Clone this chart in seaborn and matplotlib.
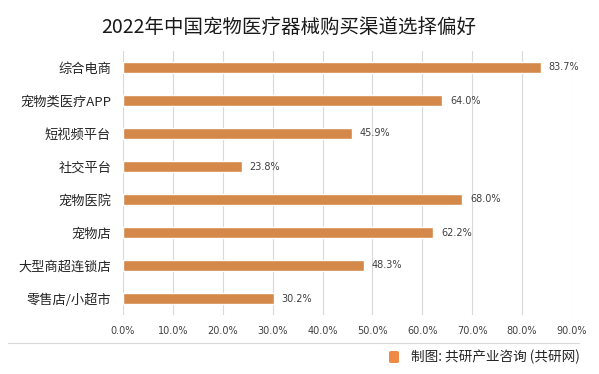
import matplotlib
matplotlib.use("Agg")
import matplotlib.pyplot as plt
import seaborn as sns
import pandas as pd
from matplotlib.patches import FancyBboxPatch

categories = ["综合电商", "宠物类医疗APP", "短视频平台", "社交平台", "宠物医院", "宠物店", "大型商超连锁店", "零售店/小超市"]
values = [83.7, 64.0, 45.9, 23.8, 68.0, 62.2, 48.3, 30.2]
xticks = [0, 10, 20, 30, 40, 50, 60, 70, 80, 90]
title = "2022年中国宠物医疗器械购买渠道选择偏好"
source = "制图: 共研产业咨询 (共研网)"

sns.set_theme(style="white")
plt.rcParams['font.family'] = ['Noto Sans CJK SC', 'DejaVu Sans']

df = pd.DataFrame({"cat": categories, "val": values})

fig = plt.figure(figsize=(5.99, 3.74), dpi=100)
ax = fig.add_axes([123/599, 1-315/374, (572-123)/599, (315-51)/374])

sns.barplot(data=df, y="cat", x="val", color="#D4894B", saturation=1, width=0.36, ax=ax, orient="h")

ax.set_xlim(0, 90)
ax.set_xticks(xticks)
ax.set_xticklabels([f"{t:.1f}%" for t in xticks], fontsize=7, color="#404040", family=['DejaVu Sans'])
ax.tick_params(axis='x', length=0, pad=8)
ax.tick_params(axis='y', length=0, pad=8.5, labelsize=9.5, labelcolor="#262626")
ax.grid(axis='x', color="#D9D9D9", linewidth=0.8)
ax.set_axisbelow(True)
for s in ax.spines.values():
    s.set_visible(False)
ax.set_xlabel("")
ax.set_ylabel("")

for i, v in enumerate(values):
    ax.text(v + 1.6, i, f"{v:.1f}%", va="center", ha="left", fontsize=7, color="#404040", family=['DejaVu Sans'])

fig.text(289/599, 1-27/374, title, ha="center", va="center", fontsize=14, color="#1a1a1a")

# separator line
fig.add_artist(plt.Line2D([8/599, 579/599], [1-343/374, 1-343/374], color="#D9D9D9", linewidth=0.8))

# source icon + text
icon = FancyBboxPatch((389/599, 1-363/374), 10/599, 12/374, boxstyle="round,pad=0,rounding_size=0.004",
                      transform=fig.transFigure, facecolor="#EE8A45", edgecolor="none")
fig.add_artist(icon)
fig.text(580/599, 1-357/374, source, ha="right", va="center", fontsize=9.8, color="#262626")

fig.savefig("out.png", dpi=100)
